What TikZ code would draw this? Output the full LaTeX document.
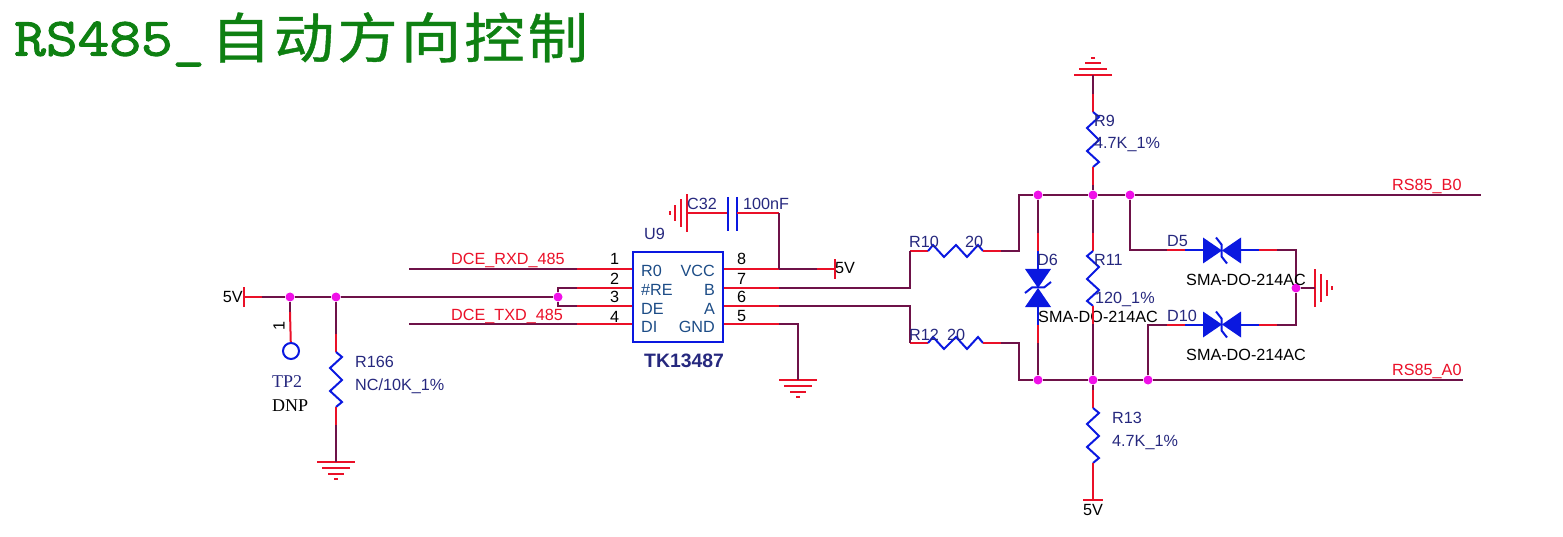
\documentclass[tikz,border=0pt]{standalone}
\usepackage{fontspec}
\setmainfont{Liberation Sans}
\newfontfamily\titlefont[FakeBold=2,FakeStretch=1.14]{Latin Modern Mono}
\newfontfamily\cjkfont[FakeBold=0.8,FakeStretch=1.12,LetterSpace=5.5]{Noto Sans CJK SC}
\newfontfamily\tpfont{Liberation Serif}
\definecolor{netc}{HTML}{6E1248}
\definecolor{pinc}{HTML}{EA1028}
\definecolor{partc}{HTML}{0A18E0}
\definecolor{dotc}{HTML}{F010E8}
\definecolor{namec}{HTML}{26287E}
\definecolor{pinl}{HTML}{1C4C86}
\definecolor{titlec}{HTML}{0E8012}
\tikzset{
    wire/.style={draw=netc, line width=2pt},
    lead/.style={draw=pinc, line width=2pt},
    part/.style={draw=partc, line width=2pt},
    junc/.style={circle, fill=dotc, inner sep=0pt, minimum size=9pt},
    txt/.style={anchor=base west, inner sep=0pt, font=\fontsize{16.2}{18}\selectfont},
    nametxt/.style={txt, text=namec},
    nettxt/.style={txt, text=pinc},
    pintxt/.style={txt, text=pinl},
    gnd/.pic={
        \draw[lead] (-19,0) -- (19,0);
        \draw[lead] (-14,6) -- (14,6);
        \draw[lead] (-8,12) -- (8,12);
        \draw[lead] (-2,17) -- (2,17);
    },
    pwr/.pic={
        \draw[lead] (-10,0) -- (10,0);
    },
    res/.pic={
        \draw[lead] (0,-18) coordinate (-a) -- (0,0);
        \draw[part] (0,0) -- (6,5) -- (-6,16) -- (6,28) -- (-6,39) -- (6,50) -- (0,55);
        \draw[lead] (0,55) -- (0,73) coordinate (-b);
    },
    tvs/.pic={
        \draw[lead] (0,-36) coordinate (-a) -- (0,-18);
        \draw[part] (0,-18) -- (0,0);
        \fill[partc] (-13,0) -- (13,0) -- (0,19) -- cycle;
        \fill[partc] (-13,38) -- (13,38) -- (0,19) -- cycle;
        \draw[part] (-13,24) -- (-6,18.5) -- (6,18.5) -- (13,13);
        \draw[part] (0,38) -- (0,56);
        \draw[lead] (0,56) -- (0,74) coordinate (-b);
    },
}
\begin{document}
\begin{tikzpicture}[x=1pt, y=-1pt]
        \useasboundingbox (0,0) rectangle (1563,537);

        \node[anchor=base west, inner sep=0pt, text=titlec] (title) at (14,55.5)
            {\fontsize{54}{60}\selectfont{\titlefont RS485\_}\hspace{6pt}\raisebox{-2.5pt}{\fontsize{54}{60}\selectfont\cjkfont 自动方向控制}};

        % junctions
        \foreach \n/\x/\y in {a/290/297, b/336/297, c/558/297, d/1038/195, e/1093/195, f/1130/195,
            g/1038/380, h/1093/380, i/1148/380, k/1296/288}
        {
            \node[junc] (j\n) at (\x,\y) {};
        }

        % the chip and its pins
        \node[draw=partc, line width=2pt, minimum width=90pt, minimum height=90pt, inner sep=0pt] (u9) at (678,297) {};
        \foreach \n/\y/\b/\t in {1/269/265/R0, 2/288/284/\#RE, 3/306/302/DE, 4/324/322/DI}
        {
            \coordinate (pin\n) at (632,\y);
            \coordinate (stub\n) at (577,\y);
            \draw[lead] (stub\n) -- (pin\n);
            \node[txt, anchor=base] (num\n) at (614.5,\b) {\n};
            \node[pintxt] (lab\n) at (641,\y+8) {\t};
        }
        \foreach \n/\y/\b/\t in {8/269/265/VCC, 7/288/284/B, 6/306/302/A, 5/324/321/GND}
        {
            \coordinate (pin\n) at (724,\y);
            \coordinate (stub\n) at (779,\y);
            \draw[lead] (pin\n) -- (stub\n);
            \node[txt, anchor=base] (num\n) at (741.5,\b) {\n};
            \node[pintxt, anchor=base east] (lab\n) at (715,\y+8) {\t};
        }
        \node[nametxt] (u9name) at (644,240) {U9};
        \node[txt, text=namec, font=\fontsize{19.4}{20}\selectfont\bfseries] (u9part) at (644,367) {TK13487};

        % left side
        \coordinate (v1) at (244,297);
        \coordinate (v1s) at (262,297);
        \pic[rotate=90] at (v1) {pwr};
        \draw[lead] (v1) -- (v1s);
        \draw[wire] (v1s) -- (ja);
        \draw[wire] (ja) -- (jb);
        \draw[wire] (jb) -- (jc);
        \draw[wire] (jc) |- (stub2);
        \draw[wire] (jc) |- (stub3);
        \node[txt, anchor=base east] (v1txt) at (243,302) {5V};

        \node[circle, draw=partc, line width=2pt, minimum size=16pt, inner sep=0pt] (tp2) at (291,351) {};
        \coordinate (tp2s) at (290,312);
        \draw[wire] (ja) -- (tp2s);
        \draw[lead] (tp2s) -- (tp2);
        \node[txt, anchor=center, rotate=90] (tp2num) at (279,326) {1};
        \node[txt, text=namec, font=\fontsize{18}{20}\selectfont\tpfont] (tp2name) at (272,387) {TP2};
        \node[txt, font=\fontsize{18}{20}\selectfont\tpfont] (tp2val) at (272,411) {DNP};

        \pic (r166) at (336,352) {res};
        \coordinate (g1) at (336,462);
        \pic at (g1) {gnd};
        \draw[wire] (jb) -- (r166-a);
        \draw[wire] (r166-b) -- (g1);
        \node[nametxt] (r166name) at (355,367) {R166};
        \node[nametxt] (r166val) at (355,390) {NC/10K\_1\%};

        \coordinate (rxd) at (409,269);
        \coordinate (txd) at (409,324);
        \draw[wire] (rxd) -- (stub1);
        \draw[wire] (txd) -- (stub4);
        \node[nettxt] (rxdname) at (451,265) {DCE\_RXD\_485};
        \node[nettxt] (txdname) at (451,320) {DCE\_TXD\_485};

        % supply and decoupling
        \coordinate (cl) at (687,213.5);
        \coordinate (cp1) at (728,213.5);
        \coordinate (cp2) at (737,213.5);
        \coordinate (ct) at (779,213.5);
        \coordinate (vcc) at (835,269);
        \coordinate (vccs) at (817,269);
        \pic[rotate=-90] at (cl) {gnd};
        \draw[lead] (cl) -- (cp1);
        \draw[part] (728,197) -- (728,231);
        \draw[part] (737,197) -- (737,231);
        \draw[lead] (cp2) -- (ct);
        \draw[wire] (ct) -- (stub8);
        \draw[wire] (stub8) -- (vccs);
        \draw[lead] (vccs) -- (vcc);
        \pic[rotate=90] at (vcc) {pwr};
        \node[nametxt] (c32name) at (687,210) {C32};
        \node[nametxt] (c32val) at (743,210) {100nF};
        \node[txt] (vcctxt) at (835,273) {5V};

        \coordinate (g2) at (798,380);
        \pic at (g2) {gnd};
        \draw[wire] (stub5) -| (g2);

        % series resistors
        \pic[rotate=90] (r10) at (928,251) {res};
        \pic[rotate=90] (r12) at (928,343) {res};
        \coordinate (rt) at (1019,195);
        \coordinate (rb) at (1019,380);
        \draw[wire] (stub7) -| (r10-a);
        \draw[wire] (stub6) -| (r12-a);
        \draw[wire] (r10-b) -| (rt) -- (jd);
        \draw[wire] (r12-b) -| (rb) -- (jg);
        \node[nametxt] (r10name) at (909,248) {R10};
        \node[nametxt] (r10val) at (965,248) {20};
        \node[nametxt] (r12name) at (909,340) {R12};
        \node[nametxt] (r12val) at (947,340) {20};

        % rails
        \coordinate (bo) at (1481,195);
        \coordinate (ao) at (1463,380);
        \draw[wire] (jd) -- (je);
        \draw[wire] (je) -- (jf);
        \draw[wire] (jf) -- (bo);
        \draw[wire] (jg) -- (jh);
        \draw[wire] (jh) -- (ji);
        \draw[wire] (ji) -- (ao);
        \node[nettxt] (boname) at (1392,191) {RS85\_B0};
        \node[nettxt] (aoname) at (1392,375) {RS85\_A0};

        % clamp diode
        \pic (d6) at (1038,269) {tvs};
        \draw[wire] (jd) -- (d6-a);
        \draw[wire] (d6-b) -- (jg);
        \node[nametxt] (d6name) at (1037,266) {D6};
        \node[txt] (d6val) at (1038,322) {SMA-DO-214AC};

        % termination
        \pic[xscale=-1] (r11) at (1093,251) {res};
        \draw[wire] (je) -- (r11-a);
        \draw[wire] (r11-b) -- (jh);
        \node[nametxt] (r11name) at (1094,266) {R11};
        \node[nametxt] (r11val) at (1095,304) {120\_1\%};

        \coordinate (g3) at (1093,75);
        \pic[rotate=180] at (g3) {gnd};
        \pic (r9) at (1093,112) {res};
        \draw[wire] (g3) -- (r9-a);
        \draw[wire] (r9-b) -- (je);
        \node[nametxt] (r9name) at (1094,127) {R9};
        \node[nametxt] (r9val) at (1094,149) {4.7K\_1\%};

        \pic (r13) at (1093,408) {res};
        \coordinate (v3) at (1093,499.5);
        \pic at (v3) {pwr};
        \draw[wire] (jh) -- (r13-a);
        \draw[lead] (r13-b) -- (v3);
        \node[nametxt] (r13name) at (1112,423) {R13};
        \node[nametxt] (r13val) at (1112,446) {4.7K\_1\%};
        \node[txt, anchor=base] (v3txt) at (1093,515) {5V};

        % line to ground diodes
        \pic[rotate=90] (d5) at (1203,250.5) {tvs};
        \pic[rotate=90] (d10) at (1203,324.5) {tvs};
        \draw[wire] (jf) |- (d5-a);
        \draw[wire] (ji) |- (d10-a);
        \draw[wire] (d5-b) -| (jk);
        \draw[wire] (d10-b) -| (jk);
        \node[nametxt] (d5name) at (1167,247) {D5};
        \node[nametxt] (d10name) at (1167,321) {D10};
        \node[txt] (d5val) at (1186,286) {SMA-DO-214AC};
        \node[txt] (d10val) at (1186,360) {SMA-DO-214AC};

        \coordinate (g4) at (1315,288);
        \pic[rotate=90] at (g4) {gnd};
        \draw[wire] (jk) -- (g4);
\end{tikzpicture}
\end{document}
